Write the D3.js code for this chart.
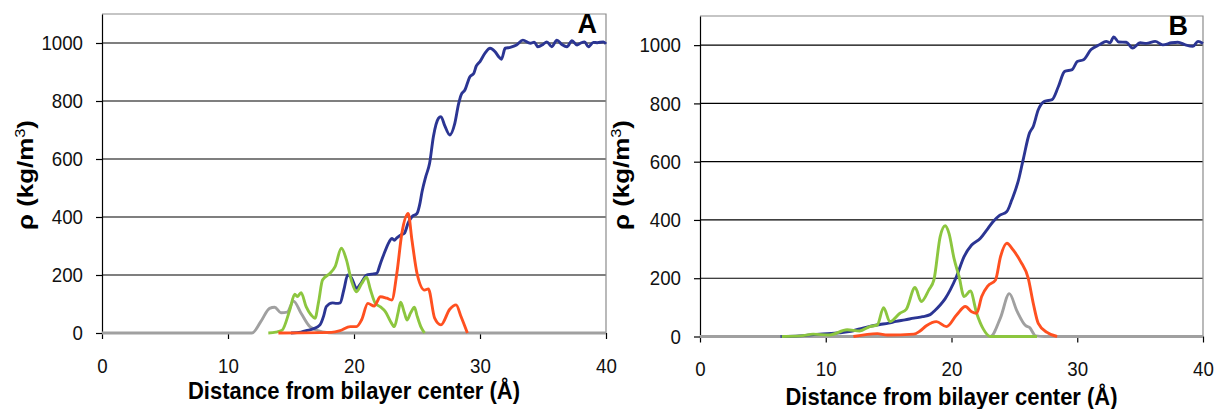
<!DOCTYPE html>
<html>
<head>
<meta charset="utf-8">
<title>Density profiles</title>
<script src="https://d3js.org/d3.v7.min.js"></script>
<style>
  body { margin: 0; background: #fff; }
  text { font-family: "Liberation Sans", Arial, sans-serif; }
</style>
</head>
<body>
<script>
// x ticks, y ticks (kg/m3)
var xTicks = [0, 10, 20, 30, 40];
var yTicks = [0, 200, 400, 600, 800, 1000];
var xTitle = "Distance from bilayer center (\u00C5)";

// panel A : [distance, density]
var grayA = [[0,0],[11.9,0],[12.6,39],[13.3,85],[13.7,89],[14.2,70],[14.7,72],[15.2,110],[15.8,68],[16.5,22],[17.5,4],[18.5,0],[40,0]];
var blueA = [[15.0,0],[15.8,3],[16.2,8],[16.8,15],[17.3,28],[17.6,60],[17.8,91],[18.3,104],[18.6,102],[18.9,104],[19.2,150],[19.5,200],[19.8,190],[20.2,154],[20.6,175],[21.0,200],[21.4,203],[21.8,206],[22.1,240],[22.4,275],[22.8,315],[23.0,326],[23.2,320],[23.4,328],[23.8,340],[24.0,344],[24.3,380],[24.6,401],[25.0,412],[25.2,440],[25.4,487],[25.7,540],[26.0,585],[26.3,677],[26.7,740],[26.9,746],[27.2,715],[27.6,683],[28.0,723],[28.3,790],[28.5,821],[28.8,838],[29.2,884],[29.5,895],[29.7,920],[30.0,936],[30.4,965],[30.8,982],[31.2,970],[31.5,952],[31.7,944],[32.0,982],[32.4,985],[32.9,993],[33.4,1010],[34.0,999],[34.3,1003],[34.6,987],[35.0,995],[35.3,1004],[35.7,987],[36.1,1010],[36.5,995],[36.9,987],[37.3,1008],[37.7,993],[38.0,1000],[38.3,1004],[38.6,987],[39.0,1002],[39.3,1001],[39.8,1004],[40.0,997]];
var greenA = [[13.2,0],[13.8,3],[14.3,10],[14.9,79],[15.3,134],[15.5,126],[15.8,139],[16.2,91],[16.6,62],[16.9,51],[17.2,110],[17.5,183],[18.1,206],[18.5,229],[19.0,292],[19.4,252],[19.8,180],[20.2,142],[20.6,170],[21.0,192],[21.3,150],[21.7,102],[22.1,90],[22.5,73],[22.9,40],[23.2,22],[23.5,70],[23.7,106],[24.0,70],[24.2,45],[24.5,70],[24.8,89],[25.0,60],[25.3,22],[25.6,0]];
var redA = [[14.0,0],[18.2,2],[18.9,8],[19.7,22],[20.2,22],[20.6,45],[21.1,102],[21.6,93],[22.1,125],[22.6,120],[23.0,114],[23.4,206],[23.8,344],[24.3,412],[24.6,320],[25.0,206],[25.6,148],[25.9,152],[26.4,51],[26.9,28],[27.6,82],[28.1,97],[28.5,56],[29.0,0]];

// panel B : [distance, density]
var grayB = [[0,0],[23.1,0],[23.9,65],[24.6,147],[25.2,88],[25.9,37],[26.2,31],[26.7,2],[27.4,0],[40,0]];
var blueB = [[6.4,0],[7.9,2],[9.5,8],[11.1,13],[12.0,18],[12.7,26],[13.5,35],[14.3,41],[15.0,46],[15.6,52],[16.3,57],[17.0,63],[17.7,68],[18.3,75],[18.7,90],[19.1,108],[19.5,130],[19.9,160],[20.4,206],[21.0,274],[21.6,314],[22.3,337],[22.8,365],[23.3,394],[23.8,415],[24.4,429],[24.8,469],[25.3,532],[25.7,607],[26.2,698],[26.5,721],[26.9,778],[27.4,807],[28.0,813],[28.5,858],[29.0,910],[29.6,916],[30.0,944],[30.5,950],[31.1,985],[31.8,1002],[32.3,1013],[32.6,1008],[32.9,1028],[33.3,1011],[33.9,1010],[34.4,990],[35.0,1008],[35.5,1006],[36.2,1013],[36.8,1001],[37.5,1008],[38.0,1010],[38.6,1001],[39.2,996],[39.6,1013],[40.0,1006]];
var greenB = [[6.5,0],[8.0,2],[9.0,8],[10.3,5],[11.7,23],[12.7,19],[13.5,34],[14.1,40],[14.6,99],[15.1,51],[15.9,80],[16.4,93],[17.1,168],[17.6,120],[18.2,160],[18.6,194],[19.1,343],[19.5,380],[19.8,354],[20.2,268],[20.6,206],[21.0,137],[21.5,156],[22.0,80],[22.5,28],[23.1,0],[26.8,0]];
var redB = [[12.2,0],[14.1,10],[14.9,5],[17.0,8],[17.5,19],[18.0,37],[18.8,51],[19.6,34],[20.4,74],[21.1,103],[21.6,85],[22.0,80],[22.4,137],[22.9,174],[23.5,194],[23.9,274],[24.4,320],[24.9,297],[25.5,257],[26.1,200],[26.5,114],[26.9,45],[27.6,14],[28.4,0]];

var colors = {gray: "#a0a0a0", blue: "#2b3593", green: "#8cc63f", red: "#ff5020"};

var svg = d3.select("body").append("svg")
  .attr("width", 1215).attr("height", 409);

function drawPanel(p) {
  var x = d3.scaleLinear().domain([0, 40]).range([p.left, p.right]);
  var y = d3.scaleLinear().domain([0, 1100]).range([p.bottom, p.top]);
  var g = svg.append("g");

  // grid lines
  g.selectAll("line.grid").data(yTicks.filter(d => d > 0)).enter().append("line")
    .attr("x1", p.left).attr("x2", p.right)
    .attr("y1", d => y(d)).attr("y2", d => y(d))
    .attr("stroke", "#000").attr("stroke-width", 1.2);

  // top and right frame
  g.append("path")
    .attr("d", "M" + p.left + "," + p.top + "H" + p.right + "V" + p.bottom)
    .attr("fill", "none").attr("stroke", "#8c8c8c").attr("stroke-width", 1.2);

  // y axis
  var ay = g.append("g").attr("transform", "translate(" + p.left + ",0)")
    .call(d3.axisLeft(y).tickValues(yTicks).tickFormat(d3.format("d"))
      .tickSize(6).tickSizeOuter(0).tickPadding(13));
  ay.select(".domain").attr("stroke", "#000").attr("stroke-width", 1.2);
  ay.selectAll(".tick line").attr("stroke", "#000").attr("stroke-width", 1.2);
  ay.selectAll("text")
    .attr("font-size", 21).attr("font-family", "Liberation Sans, Arial, sans-serif")
    .attr("fill", "#111")
    .attr("textLength", d => String(d).length * 10.4)
    .attr("lengthAdjust", "spacingAndGlyphs");

  // x axis
  var ax = g.append("g").attr("transform", "translate(0," + p.bottom + ")")
    .call(d3.axisBottom(x).tickValues(xTicks).tickFormat(d3.format("d"))
      .tickSize(6).tickSizeOuter(0).tickPadding(19));
  ax.select(".domain").remove();
  ax.selectAll(".tick line").attr("stroke", "#000").attr("stroke-width", 1.2);
  ax.selectAll("text")
    .attr("font-size", 21).attr("font-family", "Liberation Sans, Arial, sans-serif")
    .attr("fill", "#111")
    .attr("textLength", d => String(d).length * 10.4)
    .attr("lengthAdjust", "spacingAndGlyphs");

  // curves
  var line = d3.line().x(d => x(d[0])).y(d => y(d[1])).curve(d3.curveMonotoneX);
  p.series.forEach(function(s) {
    g.append("path").datum(s.data)
      .attr("d", line)
      .attr("fill", "none")
      .attr("stroke", s.color)
      .attr("stroke-width", s.w)
      .attr("stroke-linejoin", "round");
  });

  // titles
  g.append("text")
    .attr("x", (p.left + p.right) / 2).attr("y", p.xTitleY)
    .attr("text-anchor", "middle")
    .attr("font-size", 24).attr("font-weight", "bold")
    .attr("textLength", 332).attr("lengthAdjust", "spacingAndGlyphs")
    .text(xTitle);

  var yt = g.append("text")
    .attr("transform", "translate(" + p.yTitleX + ",175) rotate(-90)")
    .attr("text-anchor", "middle")
    .attr("font-size", 22).attr("font-weight", "bold")
    .attr("textLength", 110).attr("lengthAdjust", "spacingAndGlyphs");
  yt.append("tspan").text("\u03C1 (kg/m");
  yt.append("tspan").attr("dy", -8).attr("font-size", 14).attr("font-weight", "normal").text("3");
  yt.append("tspan").attr("dy", 8).text(")");

  g.append("text")
    .attr("x", p.tagX).attr("y", p.tagY)
    .attr("text-anchor", "end")
    .attr("font-size", 27).attr("font-weight", "bold")
    .text(p.tag);
}

drawPanel({
  left: 102, right: 606, top: 14, bottom: 333,
  xTitleY: 399, yTitleX: 33, tag: "A", tagX: 597, tagY: 33,
  series: [
    {data: grayA, color: colors.gray, w: 2.9},
    {data: blueA, color: colors.blue, w: 2.9},
    {data: greenA, color: colors.green, w: 2.9},
    {data: redA, color: colors.red, w: 2.9}
  ]
});

drawPanel({
  left: 700, right: 1203, top: 16, bottom: 336.5,
  xTitleY: 405, yTitleX: 629, tag: "B", tagX: 1188, tagY: 35,
  series: [
    {data: grayB, color: colors.gray, w: 2.9},
    {data: blueB, color: colors.blue, w: 2.9},
    {data: greenB, color: colors.green, w: 2.9},
    {data: redB, color: colors.red, w: 2.9}
  ]
});
</script>
</body>
</html>
